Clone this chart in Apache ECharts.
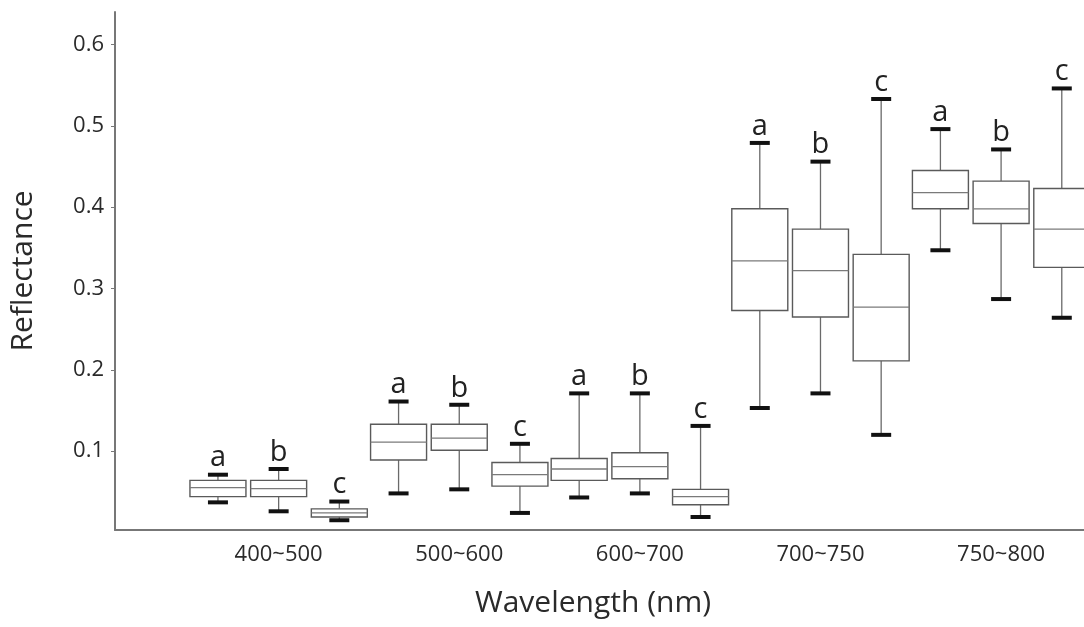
<!DOCTYPE html>
<html>
<head>
<meta charset="utf-8">
<script src="https://cdn.jsdelivr.net/npm/echarts@6/dist/echarts.min.js"></script>
<style>
  html, body { margin: 0; padding: 0; background: #fff; }
  #chart { width: 1084px; height: 627px; }
</style>
</head>
<body>
<div id="chart"></div>
<script>
// Wavelength bands on the x axis
const categories = ['400~500', '500~600', '600~700', '700~750', '750~800'];
// Group letters drawn above each box
const groupLetters = ['a', 'b', 'c'];
// Box statistics per band: [min, Q1, median, Q3, max]
const statsA = [
  [0.037, 0.044, 0.055, 0.064, 0.071],
  [0.048, 0.089, 0.111, 0.133, 0.161],
  [0.043, 0.064, 0.078, 0.091, 0.171],
  [0.153, 0.273, 0.334, 0.398, 0.479],
  [0.347, 0.398, 0.418, 0.445, 0.496]
];
const statsB = [
  [0.026, 0.044, 0.054, 0.064, 0.078],
  [0.053, 0.101, 0.116, 0.133, 0.157],
  [0.048, 0.066, 0.081, 0.098, 0.171],
  [0.171, 0.265, 0.322, 0.373, 0.456],
  [0.287, 0.380, 0.398, 0.432, 0.471]
];
const statsC = [
  [0.015, 0.019, 0.024, 0.029, 0.038],
  [0.024, 0.057, 0.071, 0.086, 0.109],
  [0.019, 0.034, 0.044, 0.053, 0.131],
  [0.120, 0.211, 0.277, 0.342, 0.533],
  [0.264, 0.326, 0.373, 0.423, 0.546]
];
// Reflectance tick labels
const yTicks = [0.1, 0.2, 0.3, 0.4, 0.5, 0.6];

const FONT = '"Open Sans", "DejaVu Sans", sans-serif';
const GROUP_STEP = 0.336;   // spacing between boxes inside a band (in band units)
const BOX_WIDTH = 0.31;     // box width (in band units)

const groups = [statsA, statsB, statsC];

function renderBox(params, api) {
  const band = api.value(0);
  const xc = band + (params.seriesIndex - 1) * GROUP_STEP;
  const pMin = api.coord([xc, api.value(1)]);
  const pQ1 = api.coord([xc, api.value(2)]);
  const pMed = api.coord([xc, api.value(3)]);
  const pQ3 = api.coord([xc, api.value(4)]);
  const pMax = api.coord([xc, api.value(5)]);
  const half = api.size([BOX_WIDTH, 0])[0] / 2;
  const capHalf = 10;
  const x = pQ3[0];
  return {
    type: 'group',
    children: [
      { type: 'line', shape: { x1: x, y1: pQ3[1], x2: x, y2: pMax[1] },
        style: { stroke: '#6a6a6a', lineWidth: 1.3 } },
      { type: 'line', shape: { x1: x, y1: pQ1[1], x2: x, y2: pMin[1] },
        style: { stroke: '#6a6a6a', lineWidth: 1.3 } },
      { type: 'rect', shape: { x: x - half, y: pQ3[1], width: half * 2, height: pQ1[1] - pQ3[1] },
        style: { fill: '#fff', stroke: '#5a5a5a', lineWidth: 1.4 } },
      { type: 'line', shape: { x1: x - half, y1: pMed[1], x2: x + half, y2: pMed[1] },
        style: { stroke: '#7a7a7a', lineWidth: 1.3 } },
      { type: 'rect', shape: { x: x - capHalf, y: pMax[1] - 2, width: capHalf * 2, height: 4 },
        style: { fill: '#111' } },
      { type: 'rect', shape: { x: x - capHalf, y: pMin[1] - 2, width: capHalf * 2, height: 4 },
        style: { fill: '#111' } },
      { type: 'text', x: x, y: pMax[1] - 2,
        style: { text: groupLetters[params.seriesIndex], fill: '#222',
                 font: '29px ' + FONT, align: 'center', verticalAlign: 'bottom' } }
    ]
  };
}

const chart = echarts.init(document.getElementById('chart'));
chart.setOption({
  animation: false,
  backgroundColor: '#fff',
  grid: { left: 113, right: 0, top: 12, bottom: 97, containLabel: false },
  xAxis: {
    type: 'value',
    min: -0.906,
    max: 4.459,
    name: 'Wavelength (nm)',
    nameLocation: 'middle',
    nameGap: 58,
    nameTextStyle: { fontFamily: FONT, fontSize: 30, color: '#2a2a2a', padding: [0, 13, 0, 0] },
    axisLine: { show: true, onZero: false, lineStyle: { color: '#777', width: 2 } },
    axisTick: { show: false },
    splitLine: { show: false },
    axisLabel: {
      customValues: [0, 1, 2, 3, 4],
      formatter: v => categories[Math.round(v)],
      fontFamily: FONT, fontSize: 22, color: '#2a2a2a', margin: 14
    }
  },
  yAxis: {
    type: 'value',
    min: 0.003,
    max: 0.64,
    name: 'Reflectance',
    nameLocation: 'middle',
    nameGap: 77,
    nameTextStyle: { fontFamily: FONT, fontSize: 30, color: '#2a2a2a' },
    axisLine: { show: true, onZero: false, lineStyle: { color: '#777', width: 2 } },
    axisTick: { show: true, inside: false, length: 4, customValues: yTicks, lineStyle: { color: '#777' } },
    splitLine: { show: false },
    axisLabel: {
      customValues: yTicks,
      formatter: v => String(Math.round(v * 10) / 10),
      fontFamily: FONT, fontSize: 22, color: '#2a2a2a', margin: 11
    }
  },
  series: groups.map((stats, gi) => ({
    type: 'custom',
    name: groupLetters[gi],
    renderItem: renderBox,
    encode: { x: 0, y: [1, 2, 3, 4, 5] },
    data: stats.map((s, i) => [i].concat(s))
  }))
});
</script>
</body>
</html>
